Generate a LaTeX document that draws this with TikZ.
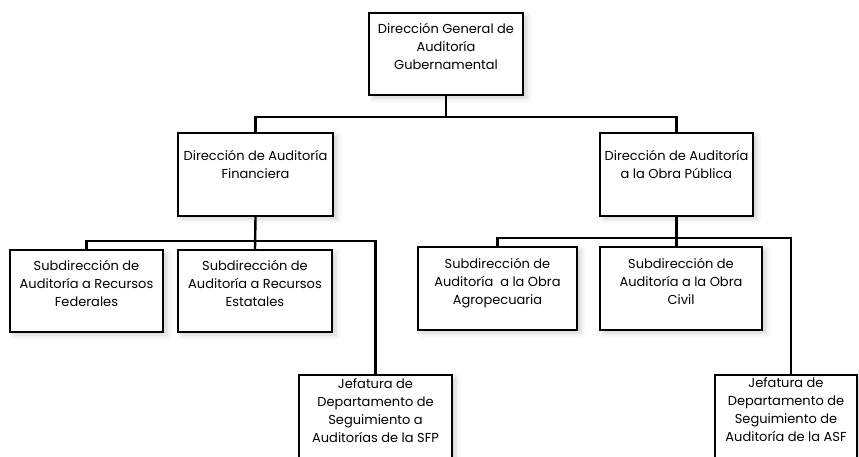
\documentclass[tikz,border=0pt]{standalone}
\usepackage{fontspec}
\setmainfont{Poppins}
\usetikzlibrary{fit,shadows.blur}

\tikzset{
  orgbox/.style={draw=black, line width=2.4pt, fill=white, inner sep=0pt,
    blur shadow={shadow xshift=4pt, shadow yshift=-3pt,
      shadow blur radius=5pt, shadow opacity=18}},
  lbl/.style={align=center, inner sep=0pt, anchor=north,
    font=\fontsize{13pt}{18pt}\selectfont},
  link/.style={draw=black, line width=2.4pt, line cap=rect}
}

\begin{document}
\begin{tikzpicture}[x=1pt,y=-1pt]
\useasboundingbox (0,0) rectangle (859,456);

% boxes of the chart
\node[orgbox, fit={(369,13) (523,95)}] (T) {};
\node[orgbox, fit={(178,133) (333,216)}] (F) {};
\node[orgbox, fit={(600,133) (753,216)}] (P) {};
\node[orgbox, fit={(10,250) (163,332)}] (SF) {};
\node[orgbox, fit={(178,250) (332,332)}] (SE) {};
\node[orgbox, fit={(418,247) (577,330)}] (SA) {};
\node[orgbox, fit={(600,247) (762,330)}] (SC) {};
\node[orgbox, fit={(299,375) (452,480)}] (JS) {};
\node[orgbox, fit={(715,375) (857,480)}] (JA) {};

% levels of the horizontal bus lines
\coordinate (bus1) at (0,117);
\coordinate (bus2) at (0,241);
\coordinate (bus3) at (0,238);
\coordinate (JAin) at ([xshift=5pt]JA.north);

% connectors
\draw[link] (T.south) -- (T.south |- bus1);
\draw[link] (F.north) |- (bus1 -| P.north) -- (P.north);
\draw[link] (F.south) -- (SE.north);
\draw[link] (SF.north) |- (bus2 -| JS.north) -- (JS.north);
\draw[link] (P.south) -- (P.south |- SC.north);
\draw[link] (SA.north) |- (bus3 -| JAin) -- (JAin);

% labels
\node[lbl] (Tt) at ([yshift=-11.5pt]T.north) {Dirección General de\\Auditoría\\Gubernamental};
\node[lbl] (Ft) at ([yshift=-18.5pt]F.north) {Dirección de Auditoría\\Financiera};
\node[lbl] (Pt) at ([yshift=-18.5pt]P.north) {Dirección de Auditoría\\a la Obra Pública};
\node[lbl] (SFt) at ([yshift=-11.5pt]SF.north) {Subdirección de\\Auditoría a Recursos\\Federales};
\node[lbl] (SEt) at ([yshift=-11.5pt]SE.north) {Subdirección de\\Auditoría a Recursos\\Estatales};
\node[lbl] (SAt) at ([yshift=-12.5pt]SA.north) {Subdirección de\\Auditoría\ \ a la Obra\\Agropecuaria};
\node[lbl] (SCt) at ([yshift=-12.5pt]SC.north) {Subdirección de\\Auditoría a la Obra\\Civil};
\node[lbl] (JSt) at ([yshift=-5pt]JS.north) {Jefatura de\\Departamento de\\Seguimiento a\\Auditorías de la SFP};
\node[lbl] (JAt) at ([yshift=-4pt]JA.north) {Jefatura de\\Departamento de\\Seguimiento de\\Auditoría de la ASF};
\end{tikzpicture}
\end{document}
